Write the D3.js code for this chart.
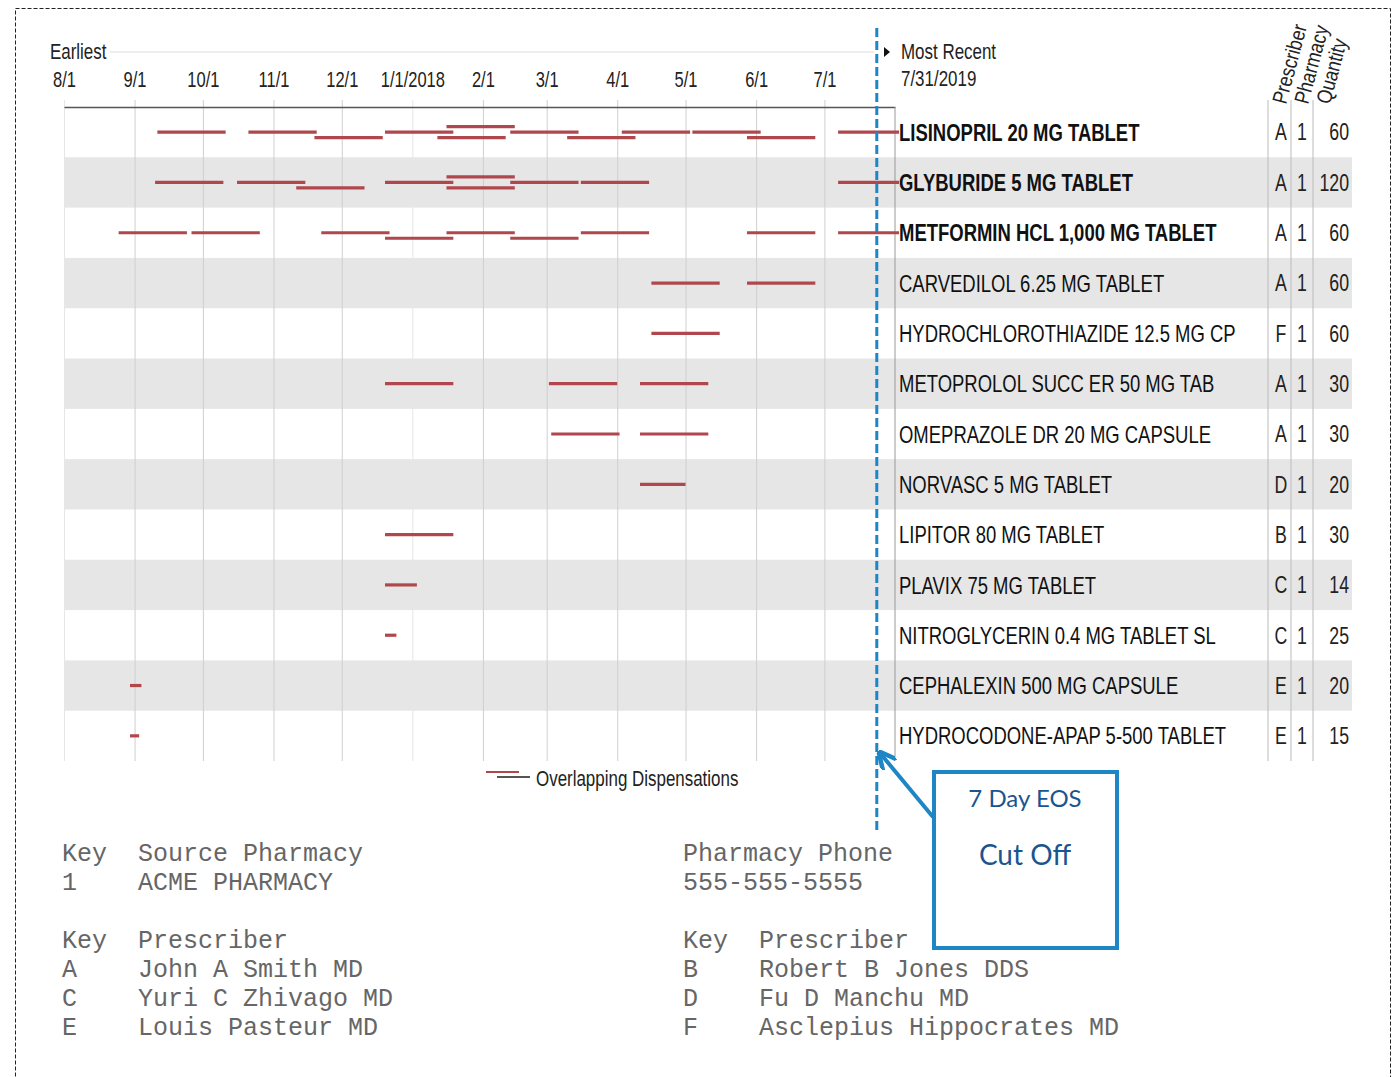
<!DOCTYPE html>
<html>
<head>
<meta charset="utf-8">
<script src="https://cdn.jsdelivr.net/npm/d3@7"></script>
<style>
  body { margin: 0; background: #fff; }
  svg text { font-family: 'Liberation Sans', Arial, sans-serif; }
  svg text.mono { font-family: 'Courier New', 'Liberation Mono', monospace; }
  svg text.callout { font-family: Lato, 'Open Sans', sans-serif; }
</style>
</head>
<body>
<div id="viz"></div>
<script>
const width = 1397;
const height = 1077;
const chart = {left: 64, right: 895, top: 107, bottom: 761};
const barColor = '#b0474d';
const blue = '#1f86c6';
const narrow = 0.77; // horizontal squeeze to mimic a condensed face

// medications, one row each
const drugs = [
  'LISINOPRIL 20 MG TABLET',
  'GLYBURIDE 5 MG TABLET',
  'METFORMIN HCL 1,000 MG TABLET',
  'CARVEDILOL 6.25 MG TABLET',
  'HYDROCHLOROTHIAZIDE 12.5 MG CP',
  'METOPROLOL SUCC ER 50 MG TAB',
  'OMEPRAZOLE DR 20 MG CAPSULE',
  'NORVASC 5 MG TABLET',
  'LIPITOR 80 MG TABLET',
  'PLAVIX 75 MG TABLET',
  'NITROGLYCERIN 0.4 MG TABLET SL',
  'CEPHALEXIN 500 MG CAPSULE',
  'HYDROCODONE-APAP 5-500 TABLET'
];
const prescribers = ['A', 'A', 'A', 'A', 'F', 'A', 'A', 'D', 'B', 'C', 'C', 'E', 'E'];
const pharmacies = [1, 1, 1, 1, 1, 1, 1, 1, 1, 1, 1, 1, 1];
const quantities = [60, 120, 60, 60, 60, 30, 30, 20, 30, 14, 25, 20, 15];
const daysSupply = [30, 30, 30, 30, 30, 30, 30, 20, 30, 14, 5, 5, 4];

// fill dates per medication
const fillDates = [
  ['2017-09-11', '2017-10-21', '2017-11-19', '2017-12-20', '2018-01-12', '2018-01-16',
   '2018-02-13', '2018-03-10', '2018-04-03', '2018-05-04', '2018-05-28', '2018-07-07'],
  ['2017-09-10', '2017-10-16', '2017-11-11', '2017-12-20', '2018-01-16', '2018-01-16',
   '2018-02-13', '2018-03-16', '2018-07-07'],
  ['2017-08-25', '2017-09-26', '2017-11-22', '2017-12-20', '2018-01-16', '2018-02-13',
   '2018-03-16', '2018-05-28', '2018-07-07'],
  ['2018-04-16', '2018-05-28'],
  ['2018-04-16'],
  ['2017-12-20', '2018-03-02', '2018-04-11'],
  ['2018-03-03', '2018-04-11'],
  ['2018-04-11'],
  ['2017-12-20'],
  ['2017-12-20'],
  ['2017-12-20'],
  ['2017-08-30'],
  ['2017-08-30']
];

const startDate = '2017-08-01';
const endDate = '2018-08-01';
const cutoffDate = '2018-07-24';
const monthTicks = ['2017-08-01', '2017-09-01', '2017-10-01', '2017-11-01', '2017-12-01', '2018-01-01',
  '2018-02-01', '2018-03-01', '2018-04-01', '2018-05-01', '2018-06-01', '2018-07-01'];
const tickLabels = ['8/1', '9/1', '10/1', '11/1', '12/1', '1/1/2018', '2/1', '3/1', '4/1', '5/1', '6/1', '7/1'];

const pharmacyKey = [['1', 'ACME PHARMACY', '555-555-5555']];
const prescriberKeys = ['A', 'B', 'C', 'D', 'E', 'F'];
const prescriberNames = ['John A Smith MD', 'Robert B Jones DDS', 'Yuri C Zhivago MD',
  'Fu D Manchu MD', 'Louis Pasteur MD', 'Asclepius Hippocrates MD'];

const parse = d3.timeParse('%Y-%m-%d');
const squeeze = (x, y) => `translate(${x},${y}) scale(${narrow},1)`;

const svg = d3.select('#viz')
  .append('svg')
    .attr('width', width)
    .attr('height', height)
    .attr('viewBox', [0, 0, width, height]);

// dashed page border
svg.append('rect')
  .attr('x', 15.5).attr('y', 8.5)
  .attr('width', 1375).attr('height', 1100)
  .attr('fill', 'none')
  .attr('stroke', '#222')
  .attr('stroke-dasharray', '4,2');

const xScale = d3.scaleTime()
  .domain([parse(startDate), parse(endDate)])
  .range([chart.left, chart.right]);

const yScale = d3.scaleBand()
  .domain(drugs)
  .range([chart.top, chart.bottom]);
const rowMid = d => yScale(d) + yScale.bandwidth() / 2;

// row bands
svg.append('g')
  .selectAll('rect')
  .data(drugs)
  .join('rect')
    .attr('x', chart.left)
    .attr('y', d => yScale(d))
    .attr('width', 1352 - chart.left)
    .attr('height', yScale.bandwidth())
    .attr('fill', (d, i) => i % 2 ? '#e6e6e6' : 'none');

// month gridlines
const ticks = monthTicks.map(parse);
svg.append('g')
  .attr('transform', `translate(0, ${chart.top - 7})`)
  .call(d3.axisBottom(xScale).tickValues(ticks).tickSize(chart.bottom - chart.top + 7).tickFormat(''))
  .call(g => g.select('.domain').remove())
  .call(g => g.selectAll('.tick line')
    .attr('stroke', (d, i) => (i === 0 || i === 5) ? '#e6e6e6' : '#cfcfcf'));

// top axis with month labels
svg.append('g')
  .attr('transform', `translate(0, ${chart.top})`)
  .call(d3.axisTop(xScale).tickValues(ticks).tickSize(0).tickPadding(20)
    .tickFormat((d, i) => tickLabels[i]))
  .call(g => g.select('.domain').attr('stroke', '#555').attr('stroke-width', 1.5))
  .call(g => g.selectAll('.tick text')
    .attr('font-size', 22)
    .attr('fill', '#222')
    .attr('font-family', null)
    .attr('transform', `scale(0.75,1)`));

// right border of plot
svg.append('line')
  .attr('x1', chart.right).attr('x2', chart.right)
  .attr('y1', chart.top).attr('y2', chart.bottom)
  .attr('stroke', '#999');

// Earliest / Most Recent header
svg.append('text')
  .attr('transform', squeeze(50, 59))
  .attr('font-size', 22).attr('fill', '#222')
  .text('Earliest');
svg.append('line')
  .attr('x1', 110).attr('x2', 874)
  .attr('y1', 52).attr('y2', 52)
  .attr('stroke', '#ddd');
svg.append('path')
  .attr('d', 'M884,47 L890,52 L884,57 Z')
  .attr('fill', '#111');
svg.append('text')
  .attr('transform', squeeze(901, 59))
  .attr('font-size', 22).attr('fill', '#222')
  .text('Most Recent');
svg.append('text')
  .attr('transform', squeeze(901, 86))
  .attr('font-size', 22).attr('fill', '#222')
  .text('7/31/2019');

// dispensation segments, stacked into lanes when they overlap
const laneOffset = [0, 5.5, -5.5];
const segments = [];
fillDates.forEach((dates, i) => {
  const laneEnds = [null, null, null];
  dates.map(parse).sort((a, b) => a - b).forEach(start => {
    const end = d3.timeDay.offset(start, daysSupply[i]);
    let lane = laneEnds.findIndex(e => e === null || start >= e);
    if (lane < 0) lane = 0;
    laneEnds[lane] = end;
    segments.push({drug: drugs[i], start, end, lane});
  });
});

svg.append('g')
  .selectAll('line')
  .data(segments)
  .join('line')
    .attr('x1', d => xScale(d.start))
    .attr('x2', d => Math.min(xScale(d.end), chart.right + 4))
    .attr('y1', d => rowMid(d.drug) + laneOffset[d.lane])
    .attr('y2', d => rowMid(d.drug) + laneOffset[d.lane])
    .attr('stroke', barColor)
    .attr('stroke-width', 3.2);

// drug labels, bold when still active at the cut off
const cutoff = parse(cutoffDate);
svg.append('g')
  .selectAll('text')
  .data(drugs)
  .join('text')
    .attr('transform', d => squeeze(899, rowMid(d)))
    .attr('dy', '0.36em')
    .attr('font-size', 24)
    .attr('fill', '#111')
    .attr('font-weight', d => segments.some(s => s.drug === d && s.end > cutoff) ? 'bold' : 'normal')
    .text(d => d);

// info columns
const cols = [
  {label: 'Prescriber', values: prescribers, x: 1281, anchor: 'middle'},
  {label: 'Pharmacy', values: pharmacies, x: 1302, anchor: 'middle'},
  {label: 'Quantity', values: quantities, x: 1349, anchor: 'end'}
];
[1268, 1291, 1313].forEach(x => {
  svg.append('line')
    .attr('x1', x).attr('x2', x)
    .attr('y1', 100).attr('y2', chart.bottom)
    .attr('stroke', '#bbb');
});
cols.forEach((c, k) => {
  svg.append('text')
    .attr('transform', `translate(${1286 + k * 22}, 105) rotate(-75) scale(0.85,1)`)
    .attr('font-size', 21).attr('fill', '#222')
    .text(c.label);
  svg.append('g')
    .selectAll('text')
    .data(c.values)
    .join('text')
      .attr('transform', (d, i) => squeeze(c.x, rowMid(drugs[i])))
      .attr('dy', '0.36em')
      .attr('text-anchor', c.anchor)
      .attr('font-size', 23)
      .attr('fill', '#222')
      .text(d => d);
});

// legend
svg.append('line')
  .attr('x1', 486).attr('x2', 519).attr('y1', 772).attr('y2', 772)
  .attr('stroke', barColor).attr('stroke-width', 2);
svg.append('line')
  .attr('x1', 497).attr('x2', 530).attr('y1', 777).attr('y2', 777)
  .attr('stroke', '#555').attr('stroke-width', 2);
svg.append('text')
  .attr('transform', squeeze(536, 786))
  .attr('font-size', 22).attr('fill', '#222')
  .text('Overlapping Dispensations');

// 7 day EOS cut off
const cx = xScale(cutoff);
svg.append('line')
  .attr('x1', cx).attr('x2', cx)
  .attr('y1', 28).attr('y2', 833)
  .attr('stroke', blue)
  .attr('stroke-width', 3)
  .attr('stroke-dasharray', '9,4');

svg.append('defs').append('marker')
  .attr('id', 'arrow')
  .attr('viewBox', '0 0 10 10')
  .attr('refX', 8).attr('refY', 5)
  .attr('markerWidth', 4.5).attr('markerHeight', 4.5)
  .attr('orient', 'auto')
  .append('path')
    .attr('d', 'M0,0 L10,5 L0,10')
    .attr('fill', 'none')
    .attr('stroke', blue)
    .attr('stroke-width', 2.5);

svg.append('line')
  .attr('x1', 933).attr('y1', 817)
  .attr('x2', cx + 4).attr('y2', 754)
  .attr('stroke', blue)
  .attr('stroke-width', 4)
  .attr('marker-end', 'url(#arrow)');

svg.append('rect')
  .attr('x', 934).attr('y', 772)
  .attr('width', 183).attr('height', 176)
  .attr('fill', '#fff')
  .attr('stroke', blue)
  .attr('stroke-width', 4);
svg.append('text')
  .attr('class', 'callout')
  .attr('x', 1025).attr('y', 807)
  .attr('text-anchor', 'middle')
  .attr('font-size', 24).attr('fill', '#1a5590')
  .text('7 Day EOS');
svg.append('text')
  .attr('class', 'callout')
  .attr('x', 1025).attr('y', 865)
  .attr('text-anchor', 'middle')
  .attr('font-size', 28).attr('fill', '#1a5590')
  .text('Cut Off');

// key tables
const keyRows = [
  [62, 861, 'Key'], [138, 861, 'Source Pharmacy'], [683, 861, 'Pharmacy Phone'],
  [62, 890, pharmacyKey[0][0]], [138, 890, pharmacyKey[0][1]], [683, 890, pharmacyKey[0][2]],
  [62, 948, 'Key'], [138, 948, 'Prescriber'], [683, 948, 'Key'], [759, 948, 'Prescriber']
];
prescriberKeys.forEach((k, i) => {
  const colX = i % 2 ? 683 : 62;
  const rowY = 977 + Math.floor(i / 2) * 29;
  keyRows.push([colX, rowY, k]);
  keyRows.push([colX + 76, rowY, prescriberNames[i]]);
});
svg.append('g')
  .selectAll('text')
  .data(keyRows)
  .join('text')
    .attr('class', 'mono')
    .attr('x', d => d[0])
    .attr('y', d => d[1])
    .attr('font-size', 25)
    .attr('fill', '#666')
    .text(d => d[2]);
</script>
</body>
</html>
